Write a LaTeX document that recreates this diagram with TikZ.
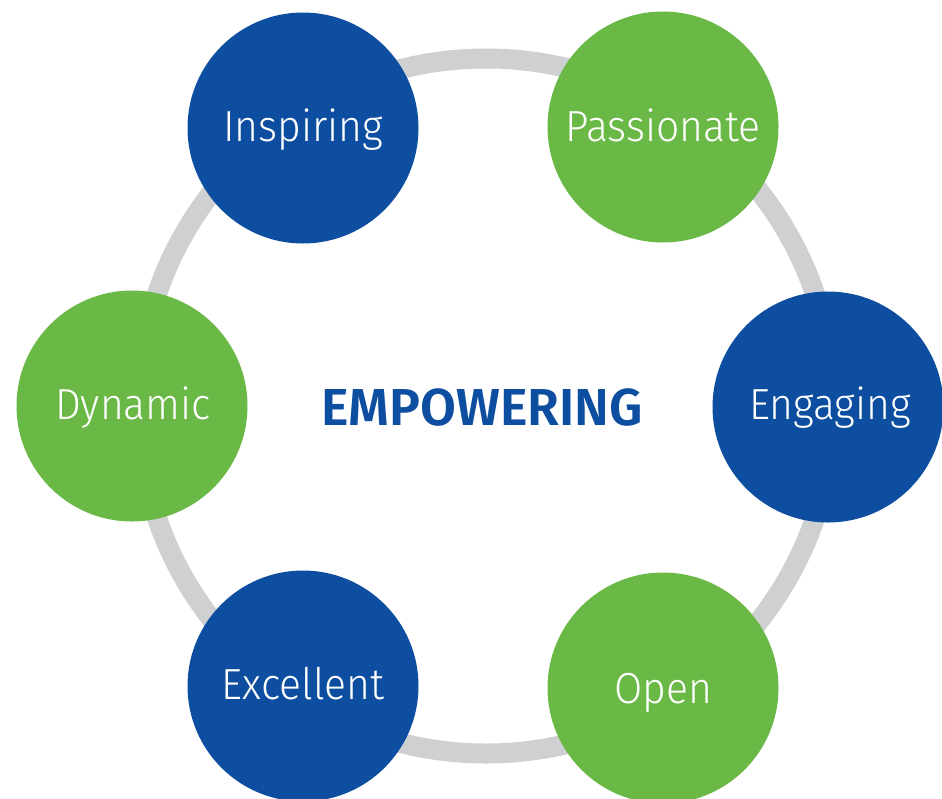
\documentclass[tikz,border=0pt]{standalone}
\usepackage{fontspec}
\setmainfont{Fira Sans}
\newfontfamily\lblfont{Fira Sans Light}[FakeStretch=0.94]
\newfontfamily\hdfont{Fira Sans SemiBold}
\definecolor{cblue}{HTML}{0D4EA0}
\definecolor{cgreen}{HTML}{6AB846}
\definecolor{cring}{HTML}{CFD0D2}
\tikzset{
  bub/.style={circle, minimum size=231pt, inner sep=0pt, draw=none},
  bluebub/.style={bub, fill=cblue},
  greenbub/.style={bub, fill=cgreen},
  lbl/.style={anchor=base, text=white, inner sep=0pt, font=\lblfont\fontsize{43.5}{50}\selectfont},
}
\begin{document}
\begin{tikzpicture}[x=1pt,y=-1pt]
\useasboundingbox (0,0) rectangle (942,798);
\node[circle, draw=cring, line width=20pt, minimum size=695pt, inner sep=0pt] (ring) at (486,406) {};
\node[bluebub] (inspiring) at (303,128) {};
\node[greenbub] (passionate) at (663,127) {};
\node[bluebub] (engaging) at (828,407) {};
\node[greenbub] (open) at (663,688) {};
\node[bluebub] (excellent) at (303,686) {};
\node[greenbub] (dynamic) at (132,406) {};
\node[lbl] (tinspiring) at (303,141) {Inspiring};
\node[lbl] (tpassionate) at (663,141) {Passionate};
\node[lbl] (tengaging) at (830,419) {Engaging};
\node[lbl] (topen) at (663,703) {Open};
\node[lbl] (texcellent) at (303,699) {Excellent};
\node[lbl] (tdynamic) at (133,419) {Dynamic};
\node[anchor=base, text=cblue, inner sep=0pt, font=\hdfont\fontsize{52}{60}\selectfont] (center) at (482,425) {EMPOWERING};
\end{tikzpicture}
\end{document}
